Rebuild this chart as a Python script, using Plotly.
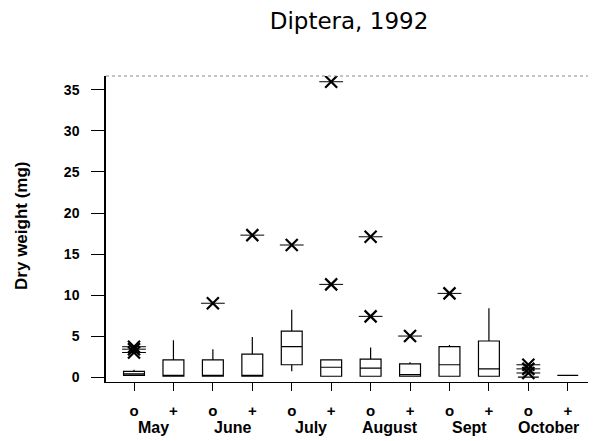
import plotly.graph_objects as go

months = ["May", "June", "July", "August", "Sept", "October"]
groups = ["o", "+"]

# box statistics, order: May o, May +, June o, June +, ... October +
q1 = [0.2, 0.1, 0.1, 0.1, 1.5, 0.1, 0.1, 0.1, 0.1, 0.1, 0.0, 0.2]
median = [0.4, 0.2, 0.2, 0.2, 3.7, 1.2, 1.1, 0.3, 1.5, 1.0, 0.0, 0.2]
q3 = [0.7, 2.1, 2.1, 2.8, 5.6, 2.1, 2.2, 1.6, 3.7, 4.4, 0.0, 0.2]
lower = [0.2, 0.1, 0.1, 0.1, 0.7, 0.1, 0.1, 0.1, 0.1, 0.1, 0.0, 0.2]
upper = [0.9, 4.5, 3.4, 4.9, 8.2, 2.1, 3.6, 1.8, 3.9, 8.4, 0.0, 0.2]

# outliers (asterisks): box index and value
outlier_box = [0, 0, 0, 2, 3, 4, 5, 5, 6, 6, 7, 8, 10, 10, 10]
outlier_val = [3.0, 3.4, 3.7, 9.0, 17.3, 16.1, 11.3, 36.0, 7.4, 17.1, 5.0, 10.2, 0.5, 1.0, 1.5]

positions = list(range(len(q1)))
ticktext = groups * len(months)

fig = go.Figure()
fig.add_trace(go.Box(
    x=positions, q1=q1, median=median, q3=q3,
    lowerfence=lower, upperfence=upper,
    boxpoints=False, width=0.53, whiskerwidth=0,
    fillcolor="white", line=dict(color="black", width=1.2),
    showlegend=False, hoverinfo="skip",
))
# asterisk = thin X plus horizontal bar
fig.add_trace(go.Scatter(
    x=outlier_box, y=outlier_val, mode="markers",
    marker=dict(symbol="x-thin-open", size=12, color="black",
                line=dict(color="black", width=2.2)),
    showlegend=False,
))
fig.add_trace(go.Scatter(
    x=outlier_box, y=outlier_val, mode="markers",
    marker=dict(symbol="line-ew-open", size=17, color="black",
                line=dict(color="black", width=1)),
    showlegend=False,
))

font = dict(family="Liberation Sans, Arial", color="black")

# page body has an 8px margin, so the figure is sized/offset to compensate
fig.update_layout(
    width=588, height=433,
    margin=dict(l=98, r=1, t=68, b=59),
    plot_bgcolor="white", paper_bgcolor="white",
    title=dict(text="Diptera, 1992", x=341 / 588, xanchor="center",
               y=1 - 13 / 433, yanchor="middle", yref="container",
               font=dict(size=23, family="DejaVu Sans", color="black")),
    xaxis=dict(range=[-0.71, 11.69], tickvals=positions, ticktext=ticktext,
               ticks="outside", ticklen=8, tickcolor="black",
               showline=True, linecolor="black", linewidth=1,
               showgrid=False, zeroline=False, ticklabelstandoff=7,
               tickfont=dict(size=15, weight="bold", **font)),
    yaxis=dict(range=[-0.6, 36.7], tickvals=[0, 5, 10, 15, 20, 25, 30, 35],
               ticks="outside", ticklen=13, tickcolor="black",
               showline=True, linecolor="black", linewidth=1.5,
               showgrid=False, zeroline=False, ticklabelstandoff=9,
               tickfont=dict(size=14, weight="bold", **font)),
)

for i, m in enumerate(months):
    fig.add_annotation(x=2 * i + 0.5, y=-0.15, xref="x", yref="paper",
                       text=m, showarrow=False, yanchor="middle",
                       font=dict(size=16, weight="bold", **font))

fig.add_annotation(x=-84 / 489, y=0.51, xref="paper", yref="paper",
                   xanchor="center", yanchor="middle",
                   text="Dry weight (mg)", textangle=-90, showarrow=False,
                   font=dict(size=17, weight="bold", **font))

# frame: dotted top, solid right
fig.add_shape(type="line", xref="paper", yref="paper", x0=0, x1=1, y0=1, y1=1,
              line=dict(color="#888888", width=1, dash="dot"))
fig.add_shape(type="line", xref="paper", yref="paper", x0=1, x1=1, y0=0, y1=1,
              line=dict(color="black", width=1.5))

fig.write_html("out.html")
